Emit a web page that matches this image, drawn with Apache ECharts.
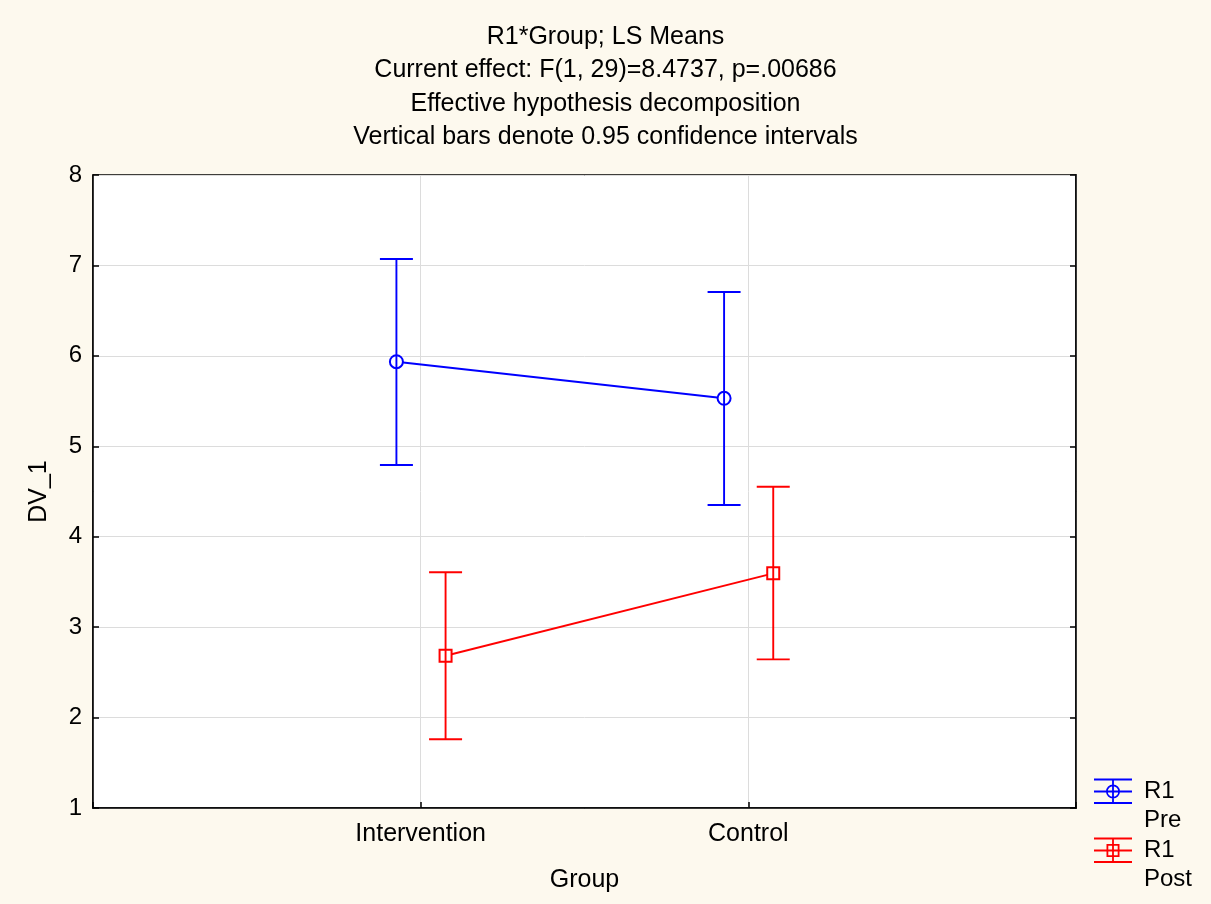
<!DOCTYPE html>
<html>
<head>
<meta charset="utf-8">
<script src="https://cdn.jsdelivr.net/npm/echarts@6/dist/echarts.min.js"></script>
<style>
html,body{margin:0;padding:0;background:#fdf9ee;}
#chart{width:1211px;height:904px;}
</style>
</head>
<body>
<div id="chart"></div>
<script>
// ---- data ----
const titleLines = [
  'R1*Group; LS Means',
  'Current effect: F(1, 29)=8.4737, p=.00686',
  'Effective hypothesis decomposition',
  'Vertical bars denote 0.95 confidence intervals'
];
const categories = ['Intervention', 'Control'];
const yTicks = [1, 2, 3, 4, 5, 6, 7, 8];
const preMean  = [5.935, 5.531];
const preLow   = [4.793, 4.351];
const preHigh  = [7.071, 6.706];
const postMean = [2.684, 3.595];
const postLow  = [1.760, 2.644];
const postHigh = [3.607, 4.553];
const legendNames = ['R1\nPre', 'R1\nPost'];

// ---- layout constants ----
const FONT = '"Liberation Sans", Arial, sans-serif';
const preOffset = -0.074;
const postOffset = 0.076;
const BLUE = '#0000ff';
const RED = '#ff0000';
const LW = 1.9;

function pts(vals, offset) {
  return vals.map((v, i) => [i + 1 + offset, v]);
}
function bars(lo, hi, offset) {
  return lo.map((v, i) => [i + 1 + offset, v, hi[i]]);
}
function errRender(color) {
  return function (params, api) {
    const x = api.value(0);
    const pLo = api.coord([x, api.value(1)]);
    const pHi = api.coord([x, api.value(2)]);
    const w = 16.5;
    const style = { stroke: color, lineWidth: LW };
    return {
      type: 'group',
      children: [
        { type: 'line', shape: { x1: pLo[0], y1: pLo[1], x2: pHi[0], y2: pHi[1] }, style: style },
        { type: 'line', shape: { x1: pHi[0] - w, y1: pHi[1], x2: pHi[0] + w, y2: pHi[1] }, style: style },
        { type: 'line', shape: { x1: pLo[0] - w, y1: pLo[1], x2: pLo[0] + w, y2: pLo[1] }, style: style }
      ]
    };
  };
}

const anchors = 'M0 0 L0.01 0 L0.01 0.01 L0 0.01 Z M44.99 57.99 L45 57.99 L45 58 L44.99 58 Z ';
const barLines = 'M0 1.6 L38 1.6 L38 3.4 L0 3.4 Z M0 13.6 L38 13.6 L38 15.4 L0 15.4 Z M0 25.1 L38 25.1 L38 26.9 L0 26.9 Z M18.1 2.5 L19.9 2.5 L19.9 26 L18.1 26 Z ';
const circleRing = 'M26 14.5 A7 7 0 1 1 12 14.5 A7 7 0 1 1 26 14.5 Z M24.3 14.5 A5.3 5.3 0 1 0 13.7 14.5 A5.3 5.3 0 1 0 24.3 14.5 Z';
const squareRing = 'M12.5 8 L25.5 8 L25.5 21 L12.5 21 Z M14.3 9.8 L14.3 19.2 L23.7 19.2 L23.7 9.8 Z';
const iconPre = 'path://' + anchors + barLines + circleRing;
const iconPost = 'path://' + anchors + barLines + squareRing;

const chart = echarts.init(document.getElementById('chart'));
chart.setOption({
  backgroundColor: '#fdf9ee',
  animation: false,
  title: {
    text: titleLines.join('\n'),
    left: 'center',
    top: 15,
    textStyle: { fontFamily: FONT, fontSize: 25, fontWeight: 'normal', color: '#000', lineHeight: 33.5 }
  },
  grid: {
    left: 93, right: 135, top: 175, bottom: 96,
    show: true, backgroundColor: '#ffffff', borderColor: '#000', borderWidth: 1.5
  },
  legend: {
    orient: 'vertical',
    left: 1094,
    top: 777,
    padding: 0,
    itemGap: 1,
    itemWidth: 45,
    itemHeight: 58,
    symbolKeepAspect: true,
    itemStyle: { borderWidth: 0 },
    data: [
      { name: legendNames[0], icon: iconPre, itemStyle: { color: BLUE } },
      { name: legendNames[1], icon: iconPost, itemStyle: { color: RED } }
    ],
    textStyle: { fontFamily: FONT, fontSize: 24, color: '#000', lineHeight: 29 }
  },
  xAxis: [{
    type: 'value', min: 0, max: 3, interval: 1,
    name: 'Group', nameLocation: 'middle', nameGap: 60,
    nameTextStyle: { fontFamily: FONT, fontSize: 25, color: '#000' },
    axisLine: { show: true, onZero: false, lineStyle: { color: '#000', width: 1.5 } },
    axisTick: { show: true, inside: true, length: 6, lineStyle: { color: '#000', width: 1.5 } },
    axisLabel: {
      margin: 14, fontFamily: FONT, fontSize: 25, color: '#000',
      formatter: function (v) { return categories[v - 1] || ''; }
    },
    splitLine: { show: true, lineStyle: { color: '#dcdcdc', width: 1 } }
  }],
  yAxis: [{
    type: 'value', min: 1, max: 8, interval: 1,
    name: 'DV_1', nameLocation: 'middle', nameGap: 41,
    nameTextStyle: { fontFamily: FONT, fontSize: 25, color: '#000' },
    axisLine: { show: true, lineStyle: { color: '#000', width: 1.5 } },
    axisTick: { show: true, inside: true, length: 6, lineStyle: { color: '#000', width: 1.5 } },
    axisLabel: {
      margin: 11, fontFamily: FONT, fontSize: 24, color: '#000',
      formatter: function (v) { return yTicks.indexOf(v) >= 0 ? String(v) : ''; }
    },
    splitLine: { show: true, lineStyle: { color: '#dcdcdc', width: 1 } }
  }, {
    type: 'value', min: 1, max: 8, interval: 1, position: 'right',
    axisLine: { show: true, lineStyle: { color: '#000', width: 1.5 } },
    axisTick: { show: true, inside: true, length: 6, lineStyle: { color: '#000', width: 1.5 } },
    axisLabel: { show: false },
    splitLine: { show: false }
  }],
  series: [
    {
      name: 'Pre mean', type: 'line', data: pts(preMean, preOffset),
      symbol: 'emptyCircle', symbolSize: 13,
      lineStyle: { color: BLUE, width: LW },
      itemStyle: { color: BLUE, borderWidth: LW },
      z: 3
    },
    {
      name: 'Post mean', type: 'line', data: pts(postMean, postOffset),
      symbol: 'emptyRect', symbolSize: 12,
      lineStyle: { color: RED, width: LW },
      itemStyle: { color: RED, borderWidth: LW },
      z: 3
    },
    {
      name: legendNames[0], type: 'custom', data: bars(preLow, preHigh, preOffset),
      encode: { x: 0, y: [1, 2] },
      itemStyle: { color: BLUE },
      renderItem: errRender(BLUE), z: 4
    },
    {
      name: legendNames[1], type: 'custom', data: bars(postLow, postHigh, postOffset),
      encode: { x: 0, y: [1, 2] },
      itemStyle: { color: RED },
      renderItem: errRender(RED), z: 4
    }
  ]
});
</script>
</body>
</html>
